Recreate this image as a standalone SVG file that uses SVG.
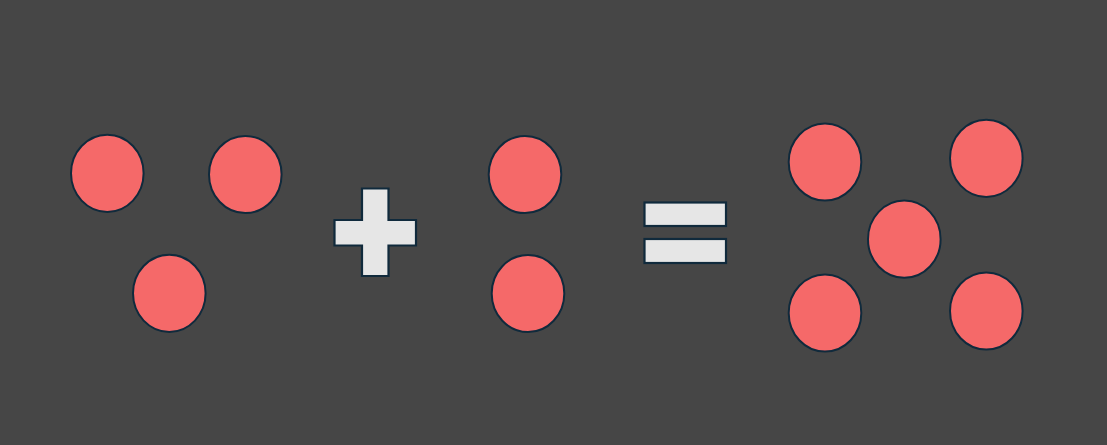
<svg xmlns="http://www.w3.org/2000/svg" width="1107" height="445" viewBox="0 0 1107 445">
<style>
.dot{fill:#f56969;stroke:#102a3c;stroke-width:2}
.sym{fill:#e6e6e6;stroke:#102a3c;stroke-width:2.2}
</style>
<rect width="1107" height="445" fill="#464646"/>
<g id="group-a">
<ellipse class="dot" cx="107.3" cy="173.3" rx="36.3" ry="38.6"/>
<ellipse class="dot" cx="245.3" cy="174.5" rx="36.3" ry="38.6"/>
<ellipse class="dot" cx="169.3" cy="293.3" rx="36.3" ry="38.6"/>
</g>
<g id="plus">
<polygon class="sym" points="362,188.5 388.5,188.5 388.5,220 416,220 416,245.5 388.5,245.5 388.5,276 362,276 362,245.5 334.5,245.5 334.5,220 362,220"/>
</g>
<g id="group-b">
<ellipse class="dot" cx="525" cy="174.5" rx="36.3" ry="38.6"/>
<ellipse class="dot" cx="528" cy="293.5" rx="36.3" ry="38.6"/>
</g>
<g id="equals">
<rect class="sym" x="644.5" y="202.5" width="81.5" height="23.5"/>
<rect class="sym" x="644.5" y="239" width="81.5" height="24"/>
</g>
<g id="group-c">
<ellipse class="dot" cx="825" cy="162" rx="36.3" ry="38.6"/>
<ellipse class="dot" cx="986.3" cy="158.3" rx="36.3" ry="38.6"/>
<ellipse class="dot" cx="904.3" cy="239.2" rx="36.3" ry="38.6"/>
<ellipse class="dot" cx="825" cy="313" rx="36.3" ry="38.6"/>
<ellipse class="dot" cx="986.3" cy="311" rx="36.3" ry="38.6"/>
</g>
<g id="connectors"/>
</svg>
